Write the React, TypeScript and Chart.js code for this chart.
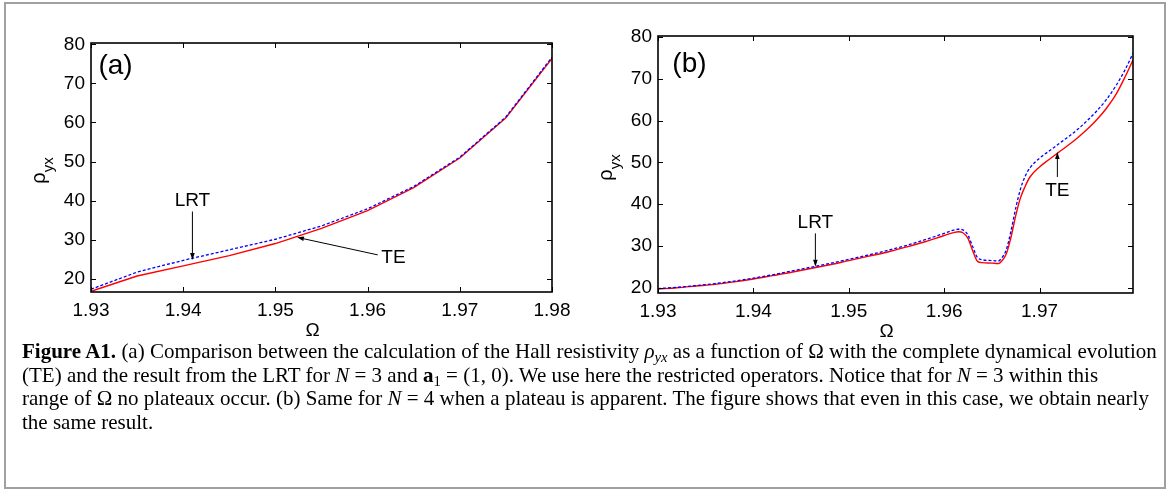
import React, { useEffect, useRef } from "react";
import { Chart, registerables } from "chart.js";

Chart.register(...registerables);

const SANS = '"Liberation Sans", Arial, Helvetica, sans-serif';
const SERIF = '"Liberation Serif", "Times New Roman", serif';

// ---------- Panel (a): N = 3 ----------
const omegaA = [1.93, 1.935, 1.94, 1.945, 1.95, 1.955, 1.96, 1.965, 1.97, 1.975, 1.98];
const teA = [16.8, 20.7, 23.3, 25.9, 29.0, 32.9, 37.4, 43.3, 50.9, 61.2, 76.4];
const lrtA = [17.3, 21.7, 24.7, 27.4, 30.1, 33.5, 37.9, 43.6, 51.1, 61.4, 76.7];
const xTicksA = [1.93, 1.94, 1.95, 1.96, 1.97, 1.98];
const yTicksA = [20, 30, 40, 50, 60, 70, 80];
const xRangeA = [1.93, 1.98];
const yRangeA = [16.6, 80.33];

// ---------- Panel (b): N = 4 ----------
const omegaB = [
  1.93, 1.932, 1.934, 1.936, 1.938, 1.94, 1.942, 1.944, 1.946, 1.948, 1.95, 1.952, 1.954,
  1.956, 1.958, 1.96, 1.961, 1.9615, 1.962, 1.9625, 1.963, 1.9635, 1.964, 1.965, 1.9657,
  1.966, 1.9665, 1.967, 1.9675, 1.968, 1.9685, 1.969, 1.97, 1.971, 1.972, 1.973, 1.974,
  1.975, 1.976, 1.977, 1.978, 1.979, 1.9798,
];
const teB = [
  19.7, 20.0, 20.4, 20.8, 21.4, 22.1, 22.9, 23.7, 24.6, 25.5, 26.5, 27.5, 28.5,
  29.7, 31.0, 32.5, 33.2, 33.4, 33.1, 31.8, 28.8, 26.3, 26.0, 25.9, 25.8,
  26.3, 28.0, 32.0, 37.2, 41.5, 44.3, 46.5, 48.9, 50.7, 52.4, 54.1, 55.9,
  57.9, 60.2, 62.9, 66.2, 70.6, 74.5,
];
const lrtB = [
  19.8, 20.1, 20.5, 21.0, 21.6, 22.3, 23.1, 24.0, 24.9, 25.8, 26.8, 27.8, 28.9,
  30.1, 31.5, 33.0, 33.8, 34.0, 33.8, 32.6, 29.8, 27.2, 26.7, 26.5, 26.4,
  27.0, 29.0, 33.5, 39.0, 43.6, 46.7, 48.7, 51.0, 52.7, 54.4, 56.1, 57.9,
  60.0, 62.3, 65.0, 68.3, 72.3, 76.1,
];
const xTicksB = [1.93, 1.94, 1.95, 1.96, 1.97];
const yTicksB = [20, 30, 40, 50, 60, 70, 80];
const xRangeB = [1.93, 1.9798];
const yRangeB = [18.74, 80.24];

// ---------- Annotations (data units) ----------
const panelLabelA = { text: "(a)", x: 1.93266, y: 74.3 };
const panelLabelB = { text: "(b)", x: 1.9333, y: 73.5 };
const notesA = [
  { text: "LRT", x: 1.941, y: 40.0 },
  { text: "TE", x: 1.9628, y: 25.4 },
];
const arrowsA = [
  { x0: 1.941, y0: 37.2, x1: 1.941, y1: 24.8 },
  { x0: 1.9611, y0: 26.1, x1: 1.95234, y1: 30.6 },
];
const notesB = [
  { text: "LRT", x: 1.9465, y: 35.5 },
  { text: "TE", x: 1.97187, y: 43.3 },
];
const arrowsB = [
  { x0: 1.9465, y0: 33.0, x1: 1.9465, y1: 25.0 },
  { x0: 1.97187, y0: 46.5, x1: 1.97187, y1: 52.5 },
];

type Note = { text: string; x: number; y: number };
type Arrow = { x0: number; y0: number; x1: number; y1: number };

function makeDecor(panel: Note, notes: Note[], arrows: Arrow[]) {
  return {
    id: "decor",
    afterDraw(chart: any) {
      const { ctx, chartArea: ca } = chart;
      const xs = chart.scales.x;
      const ys = chart.scales.y;
      ctx.save();
      ctx.strokeStyle = "#000";
      ctx.fillStyle = "#000";
      // inward ticks on all four sides
      ctx.lineWidth = 1;
      const T = 5;
      ctx.beginPath();
      xs.ticks.forEach((t: any) => {
        const px = Math.round(xs.getPixelForValue(t.value)) + 0.5;
        ctx.moveTo(px, ca.bottom);
        ctx.lineTo(px, ca.bottom - T);
        ctx.moveTo(px, ca.top);
        ctx.lineTo(px, ca.top + T);
      });
      ys.ticks.forEach((t: any) => {
        const py = Math.round(ys.getPixelForValue(t.value)) + 0.5;
        ctx.moveTo(ca.left, py);
        ctx.lineTo(ca.left + T, py);
        ctx.moveTo(ca.right, py);
        ctx.lineTo(ca.right - T, py);
      });
      ctx.stroke();
      // box
      ctx.lineWidth = 1.6;
      ctx.strokeRect(ca.left, ca.top, ca.right - ca.left, ca.bottom - ca.top);
      // arrows
      ctx.lineWidth = 1;
      arrows.forEach((a) => {
        const x0 = xs.getPixelForValue(a.x0);
        const y0 = ys.getPixelForValue(a.y0);
        const x1 = xs.getPixelForValue(a.x1);
        const y1 = ys.getPixelForValue(a.y1);
        const ang = Math.atan2(y1 - y0, x1 - x0);
        const L = 7;
        const W = 2.3;
        const bx = x1 - L * Math.cos(ang);
        const by = y1 - L * Math.sin(ang);
        ctx.beginPath();
        ctx.moveTo(x0, y0);
        ctx.lineTo(bx, by);
        ctx.stroke();
        ctx.beginPath();
        ctx.moveTo(x1, y1);
        ctx.lineTo(bx - W * Math.sin(ang), by + W * Math.cos(ang));
        ctx.lineTo(bx + W * Math.sin(ang), by - W * Math.cos(ang));
        ctx.closePath();
        ctx.fill();
      });
      // texts
      ctx.textAlign = "center";
      ctx.textBaseline = "middle";
      ctx.font = `19px ${SANS}`;
      notes.forEach((n) => {
        ctx.fillText(n.text, xs.getPixelForValue(n.x), ys.getPixelForValue(n.y));
      });
      ctx.font = `28px ${SANS}`;
      ctx.fillText(panel.text, xs.getPixelForValue(panel.x), ys.getPixelForValue(panel.y));
      // x-axis title
      ctx.font = `19px ${SANS}`;
      ctx.fillText("Ω", (ca.left + ca.right) / 2 - 9, ca.bottom + 39);
      // y-axis title rho_yx
      ctx.save();
      ctx.translate(ca.left - 46, (ca.top + ca.bottom) / 2 + 3);
      ctx.rotate(-Math.PI / 2);
      ctx.textAlign = "left";
      ctx.textBaseline = "alphabetic";
      ctx.font = `20px ${SANS}`;
      const w1 = ctx.measureText("ρ").width;
      ctx.font = `15px ${SANS}`;
      const w2 = ctx.measureText("yx").width;
      const start = -(w1 + w2) / 2;
      ctx.font = `20px ${SANS}`;
      ctx.fillText("ρ", start, 0);
      ctx.font = `15px ${SANS}`;
      ctx.fillText("yx", start + w1, 8);
      ctx.restore();
      ctx.restore();
    },
  };
}

function buildConfig(
  omega: number[], te: number[], lrt: number[], xTicks: number[], yTicks: number[],
  xRange: number[], yRange: number[], smooth: boolean,
  pad: { top: number; right: number }, yAxisWidth: number, xAxisHeight: number,
  panel: Note, notes: Note[], arrows: Arrow[]
): any {
  const tickFont = { family: SANS, size: 19 };
  return {
    type: "line",
    data: {
      datasets: [
        {
          label: "LRT",
          data: omega.map((x, i) => ({ x, y: lrt[i] })),
          borderColor: "#0000ff",
          borderWidth: 1.3,
          borderDash: [3, 2],
          pointRadius: 0,
          tension: 0,
          cubicInterpolationMode: smooth ? "monotone" : "default",
          fill: false,
        },
        {
          label: "TE",
          data: omega.map((x, i) => ({ x, y: te[i] })),
          borderColor: "#ff0000",
          borderWidth: 1.4,
          pointRadius: 0,
          tension: 0,
          cubicInterpolationMode: smooth ? "monotone" : "default",
          fill: false,
        },
      ],
    },
    options: {
      animation: false,
      responsive: false,
      maintainAspectRatio: false,
      devicePixelRatio: 1,
      events: [],
      layout: { padding: { left: 0, top: pad.top, right: pad.right, bottom: 0 } },
      plugins: { legend: { display: false }, tooltip: { enabled: false } },
      scales: {
        x: {
          type: "linear",
          min: xRange[0],
          max: xRange[1],
          grid: { display: false, drawTicks: false },
          border: { display: false },
          afterBuildTicks: (s: any) => {
            s.ticks = xTicks.map((v) => ({ value: v }));
          },
          afterFit: (s: any) => {
            s.height = xAxisHeight;
          },
          ticks: {
            color: "#000",
            font: tickFont,
            padding: 7,
            maxRotation: 0,
            autoSkip: false,
            callback: (v: any) => Number(v).toFixed(2),
          },
        },
        y: {
          type: "linear",
          min: yRange[0],
          max: yRange[1],
          grid: { display: false, drawTicks: false },
          border: { display: false },
          afterBuildTicks: (s: any) => {
            s.ticks = yTicks.map((v) => ({ value: v }));
          },
          afterFit: (s: any) => {
            s.width = yAxisWidth;
          },
          ticks: {
            color: "#000",
            font: tickFont,
            padding: 6,
            autoSkip: false,
            callback: (v: any) => String(Math.round(Number(v))),
          },
        },
      },
    },
    plugins: [makeDecor(panel, notes, arrows)],
  };
}

function ChartCanvas({ config, left, top, width, height }: any) {
  const ref = useRef<HTMLCanvasElement | null>(null);
  useEffect(() => {
    if (!ref.current) return;
    const chart = new Chart(ref.current, config);
    return () => chart.destroy();
  }, [config]);
  return (
    <canvas
      ref={ref}
      width={width}
      height={height}
      style={{ position: "absolute", left, top, width, height }}
    />
  );
}

const configA = buildConfig(
  omegaA, teA, lrtA, xTicksA, yTicksA, xRangeA, yRangeA, false,
  { top: 43, right: 28 }, 91, 48, panelLabelA, notesA, arrowsA
);
const configB = buildConfig(
  omegaB, teB, lrtB, xTicksB, yTicksB, xRangeB, yRangeB, true,
  { top: 36, right: 27 }, 78, 47, panelLabelB, notesB, arrowsB
);

const subStyle: React.CSSProperties = { fontSize: "0.7em", verticalAlign: "-0.3em", lineHeight: 0 };

export default function App() {
  return (
    <div
      style={{
        position: "absolute",
        left: 0,
        top: 0,
        width: 1174,
        height: 490,
        background: "#fff",
        overflow: "hidden",
      }}
    >
      <div
        style={{
          position: "absolute",
          left: 4,
          top: 2,
          width: 1162,
          height: 487,
          border: "2px solid #a0a0a0",
          boxSizing: "border-box",
        }}
      />
      <ChartCanvas config={configA} left={0} top={0} width={580} height={340} />
      <ChartCanvas config={configB} left={580} top={0} width={580} height={340} />
      <div
        style={{
          position: "absolute",
          left: 22,
          top: 340,
          fontFamily: SERIF,
          fontSize: 21,
          lineHeight: "23.7px",
          color: "#000",
          whiteSpace: "nowrap",
        }}
      >
        <div>
          <b>Figure A1.</b> (a) Comparison between the calculation of the Hall resistivity{" "}
          <i>ρ</i>
          <sub style={subStyle}>
            <i>yx</i>
          </sub>{" "}
          as a function of Ω with the complete dynamical evolution
        </div>
        <div>
          (TE) and the result from the LRT for <i>N</i> = 3 and <b>a</b>
          <sub style={subStyle}>1</sub> = (1, 0). We use here the restricted operators. Notice that
          for <i>N</i> = 3 within this
        </div>
        <div>
          range of Ω no plateaux occur. (b) Same for <i>N</i> = 4 when a plateau is apparent. The
          figure shows that even in this case, we obtain nearly
        </div>
        <div>the same result.</div>
      </div>
    </div>
  );
}
